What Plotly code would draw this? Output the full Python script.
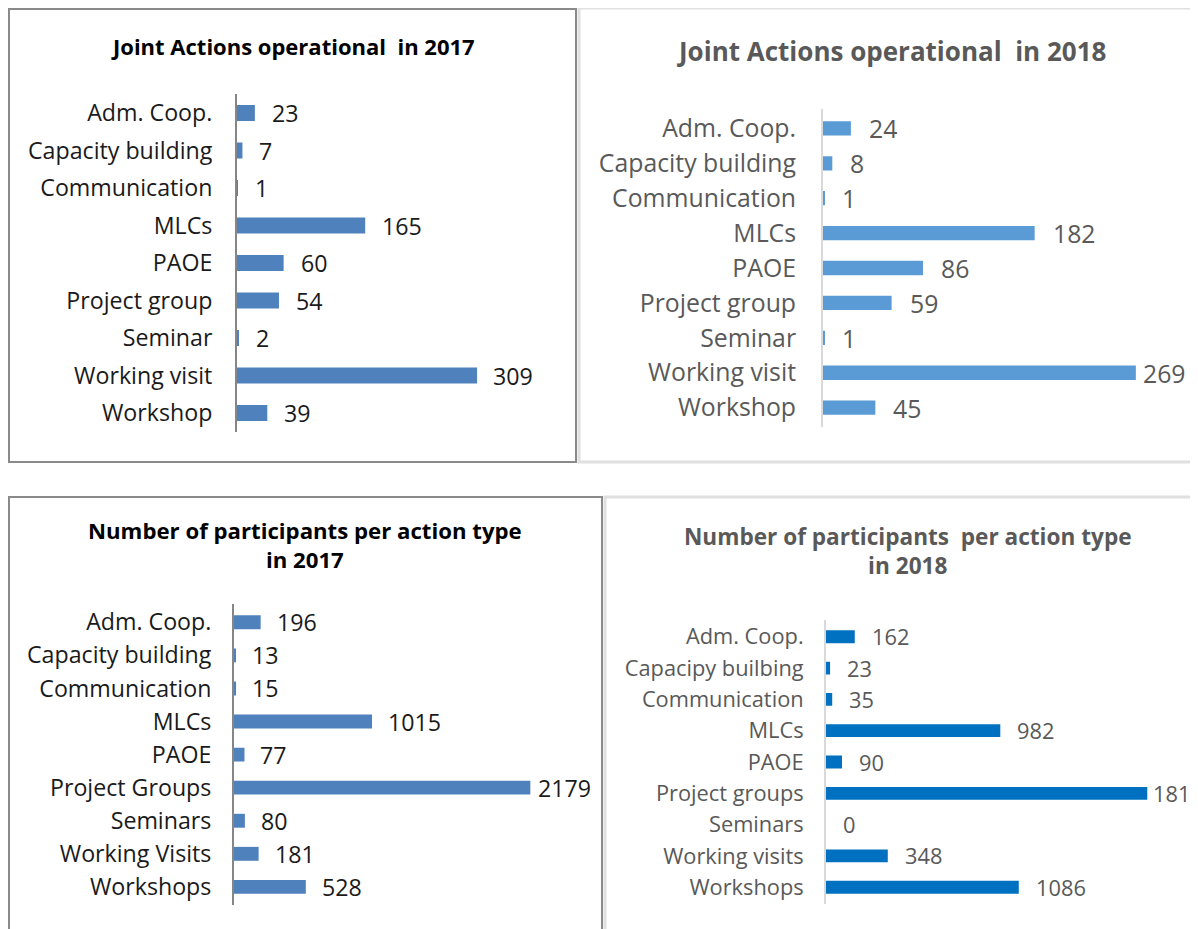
import plotly.graph_objects as go

# page is offset by the browser's 8px body margin: figure covers page x 8..1198, y 8..929
OFF = 8
W, H = 1198 - OFF, 929 - OFF


def px(x):
    return (x - OFF) / W


def py(y):
    return 1 - (y - OFF) / H


# ---------------- data ----------------
cats_a17 = ["Adm. Coop.", "Capacity building", "Communication", "MLCs", "PAOE",
            "Project group", "Seminar", "Working visit", "Workshop"]
vals_a17 = [23, 7, 1, 165, 60, 54, 2, 309, 39]

cats_a18 = ["Adm. Coop.", "Capacity building", "Communication", "MLCs", "PAOE",
            "Project group", "Seminar", "Working visit", "Workshop"]
vals_a18 = [24, 8, 1, 182, 86, 59, 1, 269, 45]

cats_p17 = ["Adm. Coop.", "Capacity building", "Communication", "MLCs", "PAOE",
            "Project Groups", "Seminars", "Working Visits", "Workshops"]
vals_p17 = [196, 13, 15, 1015, 77, 2179, 80, 181, 528]

cats_p18 = ["Adm. Coop.", "Capacipy builbing", "Communication", "MLCs", "PAOE",
            "Project groups", "Seminars", "Working visits", "Workshops"]
vals_p18 = [162, 23, 35, 982, 90, 1810, 0, 348, 1086]

titles = ["<b>Joint Actions operational  in 2017</b>",
          "<b>Joint Actions operational  in 2018</b>",
          "<b>Number of participants per action type<br>in 2017</b>",
          "<b>Number of participants  per action type<br>in 2018</b>"]

# ---------------- layout (page pixels) ----------------
FONT = "Open Sans"
panels = [
    dict(c=cats_a17, v=vals_a17, x0=237, x1=560, ppu=0.777, yc=113, sp=37.5, col="#4F81BD",
         tc="#1a1a1a", ac="#868686", fs=23.2, so=18, tx=293, ty=46, ts=22, ttc="#000000",
         bw=0.43, gap=15, gapmax=14),
    dict(c=cats_a18, v=vals_a18, x0=823, x1=1198, ppu=1.163, yc=127, sp=35.25, col="#5B9BD5",
         tc="#595959", ac="#d9d9d9", fs=24.8, so=20, tx=891, ty=51, ts=26, ttc="#595959",
         bw=0.41, gap=16, gapmax=5),
    dict(c=cats_p17, v=vals_p17, x0=234, x1=590, ppu=0.136, yc=621, sp=33.4, col="#4F81BD",
         tc="#1a1a1a", ac="#868686", fs=23.2, so=16, tx=305, ty=545, ts=22.2, ttc="#000000",
         bw=0.42, gap=14, gapmax=6),
    dict(c=cats_p18, v=vals_p18, x0=826, x1=1198, ppu=0.1775, yc=636, sp=31.5, col="#0070C0",
         tc="#595959", ac="#d9d9d9", fs=21.8, so=16, tx=908, ty=551, ts=22.6, ttc="#595959",
         bw=0.41, gap=15, gapmax=4),
]

fig = go.Figure()
annotations = []
for i, p in enumerate(panels):
    n = len(p["c"])
    top = p["yc"] - p["sp"] / 2
    bot = top + n * p["sp"]
    xa = "xaxis" if i == 0 else f"xaxis{i+1}"
    ya = "yaxis" if i == 0 else f"yaxis{i+1}"
    xr = "x" if i == 0 else f"x{i+1}"
    yr = "y" if i == 0 else f"y{i+1}"
    fig.add_trace(go.Bar(
        x=p["v"], y=p["c"], orientation="h", marker=dict(color=p["col"], line=dict(width=0)),
        width=p["bw"], xaxis=xr, yaxis=yr, hoverinfo="x+y", showlegend=False,
    ))
    fig.update_layout(**{
        xa: dict(domain=[px(p["x0"]), min(1.0, px(p["x1"]))],
                 range=[0, (p["x1"] - p["x0"]) / p["ppu"]],
                 visible=False, anchor=yr, fixedrange=True),
        ya: dict(domain=[py(bot), py(top)], type="category", autorange="reversed",
                 anchor=xr, showline=True, linecolor=p["ac"], linewidth=2,
                 ticks="", ticklabelstandoff=p["so"], showgrid=False, zeroline=False,
                 tickfont=dict(family=FONT, size=p["fs"], color=p["tc"]),
                 fixedrange=True),
    })
    vmax = max(p["v"])
    for cat, val in zip(p["c"], p["v"]):
        annotations.append(dict(
            x=val, y=cat, xref=xr, yref=yr, text=str(val), showarrow=False,
            xanchor="left", yanchor="middle",
            xshift=p["gapmax"] if val == vmax else p["gap"],
            font=dict(family=FONT, size=p["fs"], color=p["tc"]),
        ))
    annotations.append(dict(
        x=px(p["tx"]), y=py(p["ty"]), xref="paper", yref="paper", text=titles[i],
        showarrow=False, xanchor="center", yanchor="middle",
        font=dict(family=FONT, size=p["ts"], color=p["ttc"]),
    ))

shapes = [
    dict(type="rect", xref="paper", yref="paper", x0=px(579), x1=px(1215), y0=py(462), y1=py(8),
         line=dict(color="#e0e0e0", width=3), layer="below"),
    dict(type="rect", xref="paper", yref="paper", x0=px(605), x1=px(1215), y0=py(960), y1=py(497),
         line=dict(color="#e0e0e0", width=3), layer="below"),
    dict(type="rect", xref="paper", yref="paper", x0=px(9), x1=px(576), y0=py(462), y1=py(9),
         line=dict(color="#8a8a8a", width=2), layer="below"),
    dict(type="rect", xref="paper", yref="paper", x0=px(9), x1=px(602), y0=py(960), y1=py(497),
         line=dict(color="#8a8a8a", width=2), layer="below"),
]

fig.update_layout(
    width=W, height=H, margin=dict(l=0, r=0, t=0, b=0),
    paper_bgcolor="white", plot_bgcolor="rgba(0,0,0,0)",
    annotations=annotations, shapes=shapes,
    font=dict(family=FONT),
)
fig.write_html("out.html")
